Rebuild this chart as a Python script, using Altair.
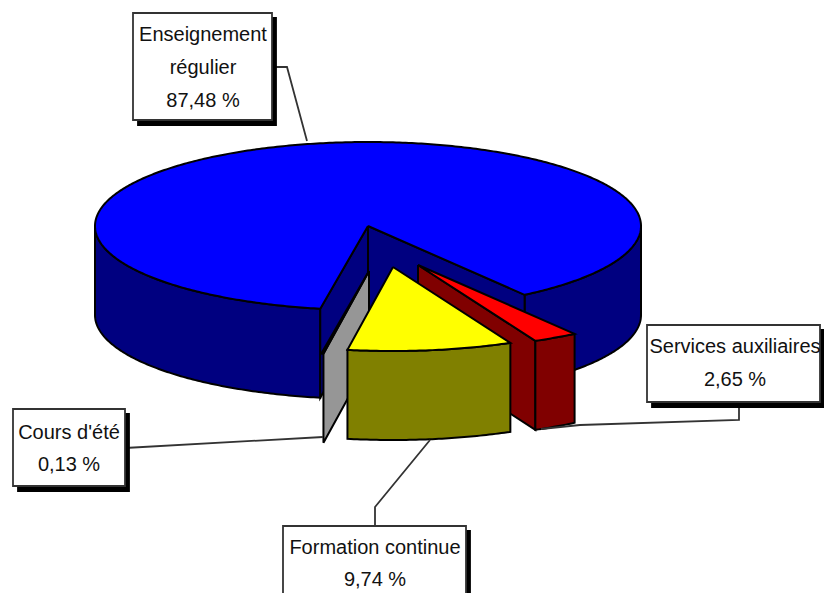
import numpy as np
import pandas as pd
import altair as alt

# ---- data
categories = ["Services auxiliaires", "Formation continue", "Cours d'été", "Enseignement régulier"]
shares = [2.65, 9.74, 0.13, 87.48]
share_labels = ["2,65 %", "9,74 %", "0,13 %", "87,48 %"]
top_colors = ["#ff0000", "#ffff00", "#969696", "#0000ff"]
side_colors = ["#800000", "#808000", "#969696", "#000080"]

W, H = 816, 585
FONT = "Liberation Sans"
RX, RY, DEPTH = 273, 84, 89
START = 55.0

# cumulative angles (screen clockwise) derived from the shares
edges = [START]
for s in shares:
    edges.append(edges[-1] + s * 3.6)

apex = {
    "Enseignement régulier": (368, 226),
    "Services auxiliaires": (418, 265),
    "Formation continue": (393, 267),
    "Cours d'été": (369, 271),
}

xs = alt.Scale(domain=[8, 8 + W], range=[0, W])
ys = alt.Scale(domain=[8, 8 + H], range=[0, H])


def arc(c, a0, a1, dy=0):
    t = np.radians(np.linspace(a0, a1, max(3, int(abs(a1 - a0) * 1.5))))
    return [(c[0] + RX * np.cos(v), c[1] + RY * np.sin(v) + dy) for v in t]


def poly(pts, fill, sw=2):
    pts = list(pts) + [pts[0]]
    df = pd.DataFrame({"x": [p[0] for p in pts], "y": [p[1] for p in pts], "i": range(len(pts))})
    return alt.Chart(df).mark_line(fill=fill, stroke="black", strokeWidth=sw, strokeJoin="miter",
                                   clip=True).encode(
        x=alt.X("x:Q", scale=xs, axis=None),
        y=alt.Y("y:Q", scale=ys, axis=None),
        order="i:O",
    )


def band(c, a0, a1, fill):
    return poly(arc(c, a0, a1) + arc(c, a1, a0, DEPTH), fill)


def wall(c, a, fill):
    p = (c[0] + RX * np.cos(np.radians(a)), c[1] + RY * np.sin(np.radians(a)))
    return poly([c, p, (p[0], p[1] + DEPTH), (c[0], c[1] + DEPTH)], fill)


def top(c, a0, a1, fill):
    return poly([c] + arc(c, a0, a1), fill)


layers = []
# main slice
c = apex[categories[3]]
a0, a1 = edges[3], edges[4]
layers += [band(c, a0, 180, side_colors[3]), band(c, 360, a1, side_colors[3]),
           wall(c, a0, side_colors[3]), wall(c, a1, side_colors[3]),
           top(c, a0, a1, top_colors[3])]
# small slice
c = apex[categories[2]]
layers += [wall(c, edges[2], side_colors[2]), top(c, edges[2], edges[3], top_colors[2])]
# third slice
c = apex[categories[0]]
layers += [wall(c, edges[1], side_colors[0]), band(c, edges[0], edges[1], side_colors[0]),
           top(c, edges[0], edges[1], top_colors[0])]
# second slice
c = apex[categories[1]]
layers += [band(c, edges[1], edges[2], side_colors[1]), top(c, edges[1], edges[2], top_colors[1])]

# ---- leader lines
leaders = [
    [(272, 67), (287, 67), (307, 141)],
    [(125, 448), (323, 437)],
    [(375, 526), (375, 507), (430, 440)],
    [(739, 402), (739, 420), (580, 425), (541, 429)],
]
for ld in leaders:
    df = pd.DataFrame({"x": [p[0] for p in ld], "y": [p[1] for p in ld], "i": range(len(ld))})
    layers.append(alt.Chart(df).mark_line(color="#333333", strokeWidth=1.8).encode(
        x=alt.X("x:Q", scale=xs, axis=None), y=alt.Y("y:Q", scale=ys, axis=None), order="i:O"))

# ---- label boxes
boxes = [
    (133, 13, 272, 120, 203, ["Enseignement", "régulier", share_labels[3]], [35, 68, 101]),
    (13, 409, 125, 486, 69, ["Cours d'été", share_labels[2]], [433, 465]),
    (283, 526, 466, 640, 375, ["Formation continue", share_labels[1]], [548, 580]),
    (647, 325, 820, 402, 735, ["Services auxiliaires", share_labels[0]], [347, 380]),
]
for x0, y0, x1, y1, tc, lines, ty in boxes:
    sh = pd.DataFrame({"x": [x0 + 5], "x2": [x1 + 4], "y": [y0 + 5], "y2": [y1 + 5]})
    bx = pd.DataFrame({"x": [x0], "x2": [x1], "y": [y0], "y2": [y1]})
    for df, fill, stroke in ((sh, "black", "black"), (bx, "white", "#333333")):
        layers.append(alt.Chart(df).mark_rect(fill=fill, stroke=stroke, strokeWidth=1.8, clip=True).encode(
            x=alt.X("x:Q", scale=xs, axis=None), x2="x2:Q",
            y=alt.Y("y:Q", scale=ys, axis=None), y2="y2:Q"))
    tx = pd.DataFrame({"t": lines, "x": [tc] * len(lines), "y": ty})
    layers.append(alt.Chart(tx).mark_text(font=FONT, fontSize=20, color="#111111", baseline="middle",
                                          align="center").encode(
        x=alt.X("x:Q", scale=xs, axis=None), y=alt.Y("y:Q", scale=ys, axis=None), text="t:N"))

chart = alt.layer(*layers).properties(width=W, height=H, padding=0, background="white",
                                      autosize=alt.AutoSizeParams(type="none")
                                      ).configure_view(stroke=None)
chart.save("out.html", embed_options={"renderer": "svg", "actions": False})
